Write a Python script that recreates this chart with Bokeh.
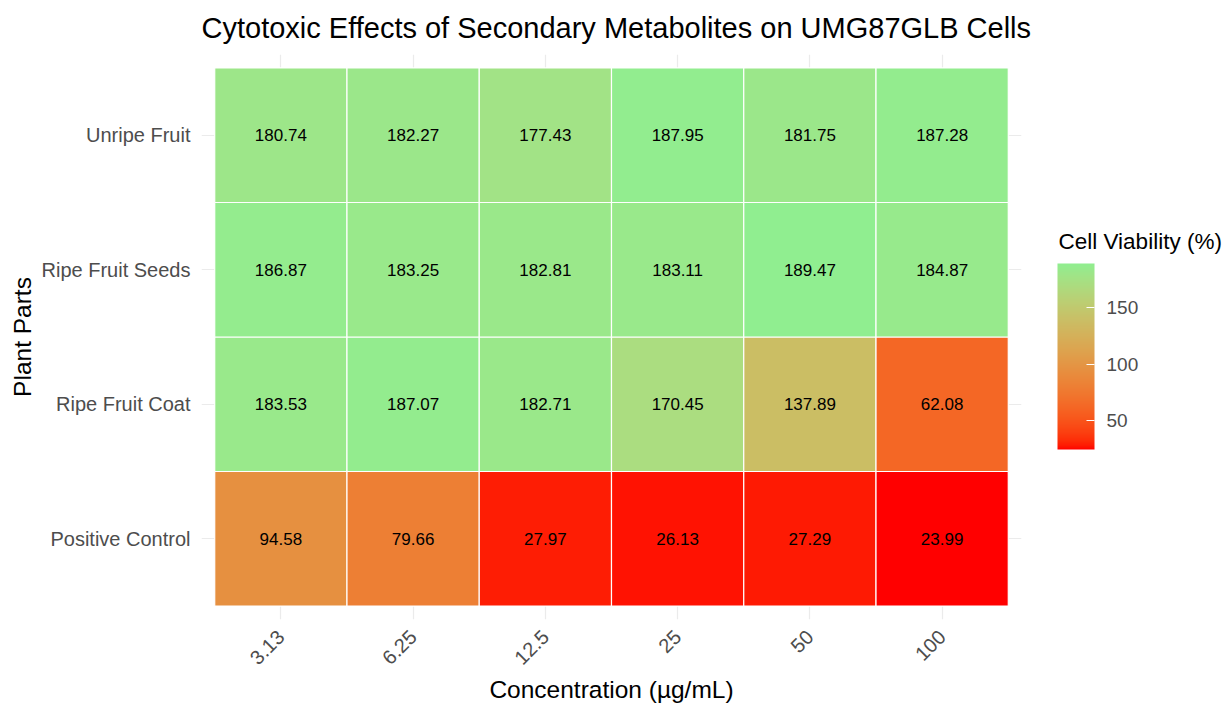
import math
from bokeh.plotting import figure
from bokeh.models import (ColumnDataSource, LinearColorMapper, ColorBar,
                          FixedTicker, FactorRange)
from bokeh.transform import transform
from bokeh.core.properties import value
from bokeh.embed import file_html
from bokeh.resources import INLINE

# Concentrations tested (µg/mL) and plant parts (bottom to top)
concentrations = ["3.13", "6.25", "12.5", "25", "50", "100"]
plant_parts = ["Positive Control", "Ripe Fruit Coat", "Ripe Fruit Seeds", "Unripe Fruit"]

# Cell viability (%) per plant part, one value per concentration
unripe_fruit = [180.74, 182.27, 177.43, 187.95, 181.75, 187.28]
ripe_fruit_seeds = [186.87, 183.25, 182.81, 183.11, 189.47, 184.87]
ripe_fruit_coat = [183.53, 187.07, 182.71, 170.45, 137.89, 62.08]
positive_control = [94.58, 79.66, 27.97, 26.13, 27.29, 23.99]

# Colour bar ticks
legend_ticks = [50, 100, 150]

viability = {
    "Unripe Fruit": unripe_fruit,
    "Ripe Fruit Seeds": ripe_fruit_seeds,
    "Ripe Fruit Coat": ripe_fruit_coat,
    "Positive Control": positive_control,
}

FONT = "Liberation Sans"


# --- red -> lightgreen gradient interpolated in CIE Lab space ---
def _hex_to_rgb(h):
    h = h.lstrip("#")
    return [int(h[i:i + 2], 16) / 255 for i in (0, 2, 4)]


def _lin(c):
    return c / 12.92 if c <= 0.04045 else ((c + 0.055) / 1.055) ** 2.4


def _delin(c):
    c = max(0.0, min(1.0, c))
    return 12.92 * c if c <= 0.0031308 else 1.055 * c ** (1 / 2.4) - 0.055


WHITE = (0.95047, 1.0, 1.08883)


def _rgb_to_lab(rgb):
    r, g, b = [_lin(c) for c in rgb]
    x = 0.4124564 * r + 0.3575761 * g + 0.1804375 * b
    y = 0.2126729 * r + 0.7151522 * g + 0.0721750 * b
    z = 0.0193339 * r + 0.1191920 * g + 0.9503041 * b

    def f(t):
        return t ** (1 / 3) if t > 216 / 24389 else (24389 / 27 * t + 16) / 116

    fx, fy, fz = f(x / WHITE[0]), f(y / WHITE[1]), f(z / WHITE[2])
    return (116 * fy - 16, 500 * (fx - fy), 200 * (fy - fz))


def _lab_to_hex(lab):
    L, a, b = lab
    fy = (L + 16) / 116
    fx = fy + a / 500
    fz = fy - b / 200

    def finv(t):
        return t ** 3 if t ** 3 > 216 / 24389 else (116 * t - 16) / (24389 / 27)

    x, y, z = finv(fx) * WHITE[0], finv(fy) * WHITE[1], finv(fz) * WHITE[2]
    r = 3.2404542 * x - 1.5371385 * y - 0.4985314 * z
    g = -0.9692660 * x + 1.8760108 * y + 0.0415560 * z
    bb = 0.0556434 * x - 0.2040259 * y + 1.0572252 * z
    return "#%02x%02x%02x" % tuple(int(round(_delin(c) * 255)) for c in (r, g, bb))


low_lab = _rgb_to_lab(_hex_to_rgb("#FF0000"))
high_lab = _rgb_to_lab(_hex_to_rgb("#90EE90"))
palette = [
    _lab_to_hex(tuple(lo + (hi - lo) * i / 255 for lo, hi in zip(low_lab, high_lab)))
    for i in range(256)
]

all_values = [v for part in plant_parts for v in viability[part]]
mapper = LinearColorMapper(palette=palette, low=min(all_values), high=max(all_values))

xs, ys, vals, labels = [], [], [], []
for part in plant_parts:
    for conc, v in zip(concentrations, viability[part]):
        xs.append(conc)
        ys.append(part)
        vals.append(v)
        labels.append("%.2f" % v)
src = ColumnDataSource(dict(conc=xs, part=ys, value=vals, label=labels))

x_range = FactorRange(factors=concentrations, range_padding=0.1, range_padding_units="absolute")
y_range = FactorRange(factors=plant_parts, range_padding=0.1, range_padding_units="absolute")

p = figure(width=1228, height=705, x_range=x_range, y_range=y_range,
           output_backend="svg", toolbar_location=None,
           min_border_left=201, min_border_right=207,
           min_border_top=54, min_border_bottom=86)
p.outline_line_color = None
p.background_fill_color = "white"
p.border_fill_color = "white"

p.title.text = "Cytotoxic Effects of Secondary Metabolites on UMG87GLB Cells"
p.title.text_font = FONT
p.title.text_font_size = "29px"
p.title.text_font_style = "normal"
p.title.text_color = "black"
p.title.align = "left"
p.title.vertical_align = "top"
p.title.standoff = 18

p.rect(x="conc", y="part", width=1, height=1, source=src,
       fill_color=transform("value", mapper), line_color="white", line_width=1.2)
p.text(x="conc", y="part", text="label", source=src,
       text_align="center", text_baseline="middle",
       text_font=value(FONT), text_font_size="17px", text_color="black")

for g in (p.xgrid, p.ygrid):
    g.grid_line_color = "#EBEBEB"
    g.grid_line_width = 1.2

for ax in (p.xaxis, p.yaxis):
    ax.axis_line_color = None
    ax.major_tick_line_color = None
    ax.minor_tick_line_color = None
    ax.major_label_text_font = FONT
    ax.major_label_text_font_size = "20px"
    ax.major_label_text_color = "#4D4D4D"
    ax.axis_label_text_font = FONT
    ax.axis_label_text_font_size = "24.5px"
    ax.axis_label_text_font_style = "normal"
    ax.axis_label_text_color = "black"

p.xaxis.axis_label = "Concentration (µg/mL)"
p.xaxis.major_label_orientation = math.pi / 4
p.xaxis.major_label_standoff = 8
p.xaxis.axis_label_standoff = 2
p.yaxis.axis_label = "Plant Parts"
p.yaxis.major_label_standoff = 5
p.yaxis.axis_label_standoff = 3

# Gradient bar with its value labels
cb = ColorBar(color_mapper=mapper, ticker=FixedTicker(ticks=legend_ticks),
              width=37, height=186, padding=0, margin=0,
              location=(856, 170),
              major_label_text_font=FONT, major_label_text_font_size="19px",
              major_label_text_color="#4D4D4D",
              major_tick_line_color="white", major_tick_in=8, major_tick_out=0,
              minor_tick_line_color=None, bar_line_color=None,
              label_standoff=12,
              background_fill_color=None, border_line_color=None)
p.add_layout(cb, "center")

# Horizontal legend heading, set above the gradient bar
cb_head = ColorBar(color_mapper=mapper, orientation="horizontal",
                   ticker=FixedTicker(ticks=[]), scale_alpha=0,
                   width=170, height=1, padding=0, margin=0,
                   location=(857, 364),
                   major_label_text_color=None, major_tick_line_color=None,
                   minor_tick_line_color=None, bar_line_color=None,
                   title="Cell Viability (%)", title_text_font=FONT,
                   title_text_font_size="22.5px", title_text_font_style="normal",
                   title_text_color="black", title_standoff=2,
                   background_fill_color=None, border_line_color=None)
p.add_layout(cb_head, "center")

open("out.html", "w").write(file_html(p, INLINE))
